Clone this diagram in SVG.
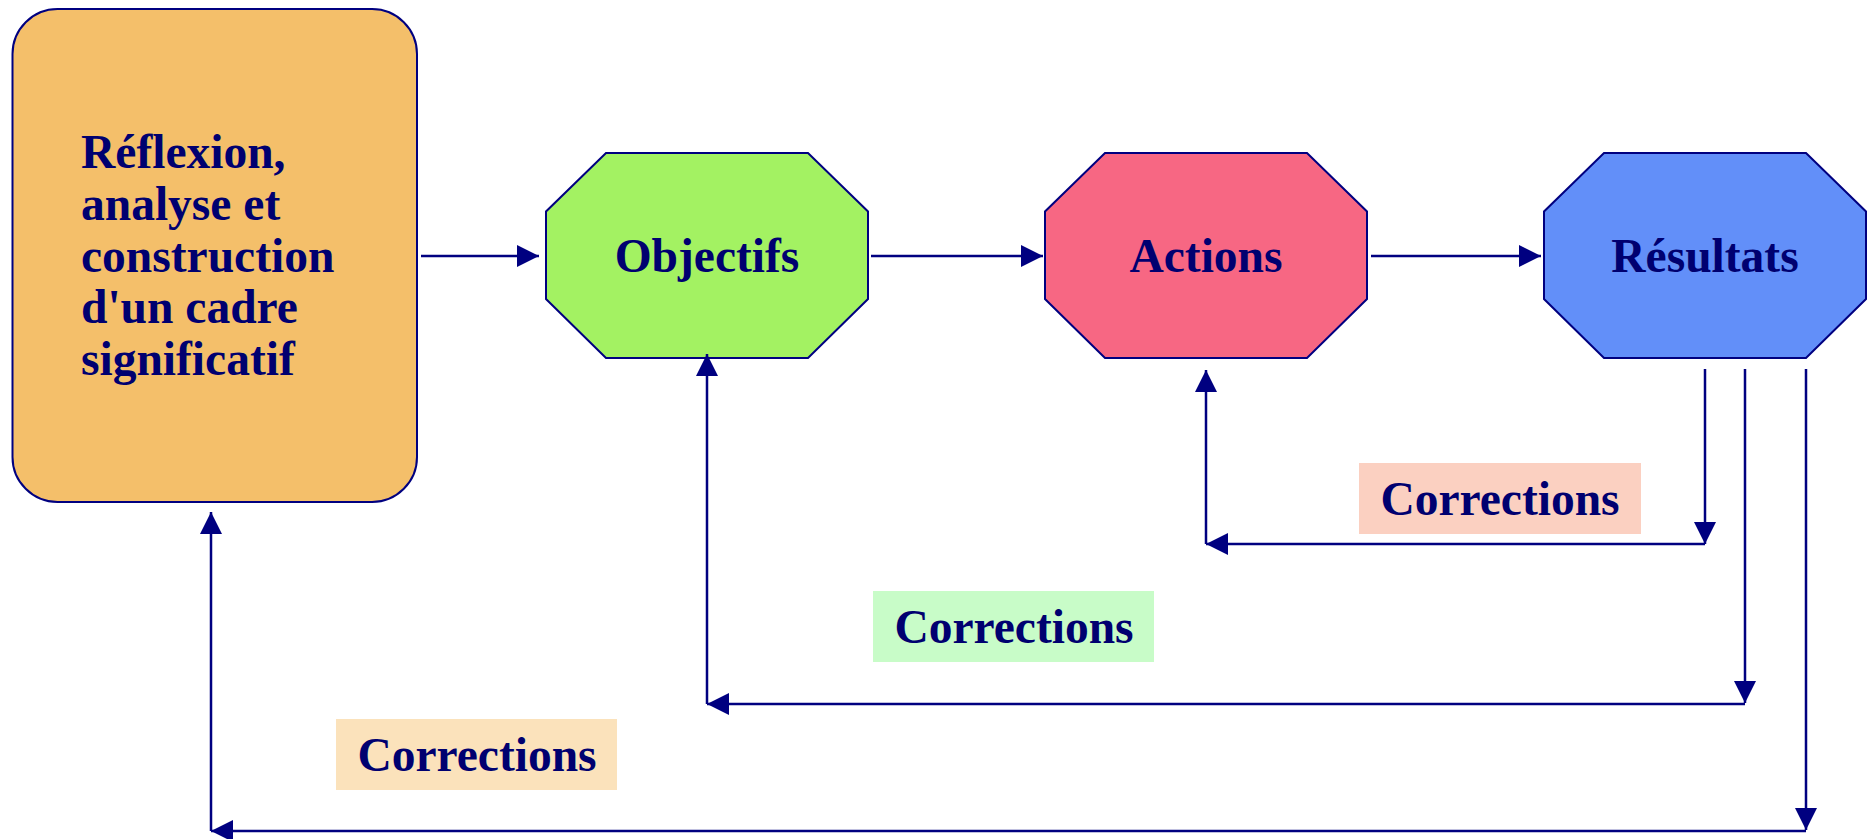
<svg xmlns="http://www.w3.org/2000/svg" width="1869" height="839" viewBox="0 0 1869 839">
<style>
  .node { stroke: #000080; stroke-width: 2; }
  .t { font-family: "Liberation Serif", "Times New Roman", serif; font-weight: bold; font-size: 47.5px; fill: #000070; }
  .c { text-anchor: middle; }
  .conn { stroke: #000080; stroke-width: 2.5; fill: none; marker-end: url(#ah); }
</style>
<defs>
  <marker id="ah" markerUnits="userSpaceOnUse" markerWidth="22" markerHeight="22" viewBox="0 0 22 22" refX="22" refY="11" orient="auto">
    <path d="M0,0 L22,11 L0,22 z" fill="#000080"/>
  </marker>
</defs>
<rect width="1869" height="839" fill="#ffffff"/>

<g id="reflexion">
  <rect class="node" x="12.5" y="9" width="404.5" height="493" rx="45" ry="45" fill="#F4BF6A"/>
  <text class="t" x="81" y="168">Réflexion,</text>
  <text class="t" x="81" y="220">analyse et</text>
  <text class="t" x="81" y="272">construction</text>
  <text class="t" x="81" y="323">d'un cadre</text>
  <text class="t" x="81" y="375">significatif</text>
</g>

<g id="objectifs">
  <polygon class="node" fill="#A3F262" points="606,153 808,153 868,211.5 868,299 808,358 606,358 546,299 546,211.5"/>
  <text class="t c" x="707" y="272">Objectifs</text>
</g>

<g id="actions">
  <polygon class="node" fill="#F76783" points="1105,153 1307,153 1367,211.5 1367,299 1307,358 1105,358 1045,299 1045,211.5"/>
  <text class="t c" x="1206" y="272">Actions</text>
</g>

<g id="resultats">
  <polygon class="node" fill="#628FF9" points="1604,153 1806,153 1866,211.5 1866,299 1806,358 1604,358 1544,299 1544,211.5"/>
  <text class="t c" x="1705" y="272">Résultats</text>
</g>

<g id="label-corrections-1">
  <rect x="1359" y="463" width="282" height="71" fill="#FBD0C1"/>
  <text class="t c" x="1500" y="515">Corrections</text>
</g>
<g id="label-corrections-2">
  <rect x="873" y="591" width="281" height="71" fill="#C8FCC8"/>
  <text class="t c" x="1014" y="643">Corrections</text>
</g>
<g id="label-corrections-3">
  <rect x="336" y="719" width="281" height="71" fill="#FBE2BB"/>
  <text class="t c" x="477" y="771">Corrections</text>
</g>

<g id="connectors">
  <line class="conn" x1="421" y1="256" x2="539" y2="256"/>
  <line class="conn" x1="871" y1="256" x2="1043" y2="256"/>
  <line class="conn" x1="1371" y1="256" x2="1541" y2="256"/>

  <line class="conn" x1="1705" y1="369" x2="1705" y2="544"/>
  <line class="conn" x1="1705" y1="544" x2="1206" y2="544"/>
  <line class="conn" x1="1206" y1="544" x2="1206" y2="370"/>

  <line class="conn" x1="1745" y1="369" x2="1745" y2="703"/>
  <line class="conn" x1="1745" y1="704" x2="707" y2="704"/>
  <line class="conn" x1="707" y1="704" x2="707" y2="354"/>

  <line class="conn" x1="1806" y1="369" x2="1806" y2="830"/>
  <line class="conn" x1="1806" y1="831" x2="211" y2="831"/>
  <line class="conn" x1="211" y1="831" x2="211" y2="512"/>
</g>
</svg>
